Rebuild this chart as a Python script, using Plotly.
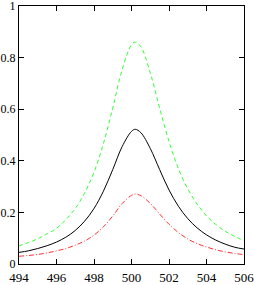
import plotly.graph_objects as go

x_vals = [494, 494.5, 495, 495.5, 496, 496.5, 497, 497.5, 498, 498.5, 499, 499.5,
          500, 500.2, 500.5, 501, 501.5, 502, 502.5, 503, 503.5, 504, 504.5, 505, 505.5, 506]

black_vals = [0.045, 0.051, 0.060, 0.071, 0.085, 0.104, 0.130, 0.166, 0.215, 0.282, 0.366, 0.455,
              0.514, 0.522, 0.509, 0.448, 0.366, 0.287, 0.224, 0.176, 0.140, 0.113, 0.0925, 0.077, 0.065, 0.058]

green_vals = [0.070, 0.083, 0.098, 0.117, 0.138, 0.172, 0.215, 0.275, 0.356, 0.466, 0.605, 0.753,
              0.850, 0.860, 0.842, 0.741, 0.605, 0.475, 0.370, 0.291, 0.232, 0.187, 0.153, 0.127, 0.107, 0.090]

red_vals = [0.030, 0.033, 0.037, 0.043, 0.051, 0.060, 0.073, 0.089, 0.112, 0.144, 0.186, 0.234,
            0.266, 0.271, 0.265, 0.235, 0.194, 0.154, 0.122, 0.097, 0.079, 0.066, 0.055, 0.047, 0.041, 0.036]

x_ticks = [494, 496, 498, 500, 502, 504, 506]
y_ticks = [0, 0.2, 0.4, 0.6, 0.8, 1]
y_ticktext = ["0", "0.2", "0.4", "0.6", "0.8", "1"]

fig = go.Figure()
fig.add_trace(go.Scatter(x=x_vals, y=green_vals, mode="lines", line_shape="spline",
                         line=dict(color="#33ff33", width=1, dash="4px,3px")))
fig.add_trace(go.Scatter(x=x_vals, y=black_vals, mode="lines", line_shape="spline",
                         line=dict(color="#000000", width=1)))
fig.add_trace(go.Scatter(x=x_vals, y=red_vals, mode="lines", line_shape="spline",
                         line=dict(color="#ff3333", width=1, dash="5px,2px,1px,2px")))

axis_common = dict(showgrid=False, zeroline=False, showline=True, linecolor="black", linewidth=1,
                   mirror="allticks", ticks="inside", ticklen=5, tickwidth=1, tickcolor="black",
                   automargin=False, ticklabeloverflow="allow")

fig.update_layout(
    width=254, height=285,
    margin=dict(l=19, r=10, t=6, b=21),
    paper_bgcolor="white", plot_bgcolor="white",
    showlegend=False,
    font=dict(family="Liberation Serif", size=13, color="black"),
    xaxis=dict(range=[494, 506], tickvals=x_ticks, ticklabelstandoff=1, **axis_common),
    yaxis=dict(range=[0, 1], tickvals=y_ticks, ticktext=y_ticktext, ticklabelstandoff=0,
               tickfont=dict(size=12), **axis_common),
)

fig.write_html("out.html", config={"displayModeBar": False, "staticPlot": True},
               post_script="document.body.style.margin='0';document.body.style.overflow='hidden';")
